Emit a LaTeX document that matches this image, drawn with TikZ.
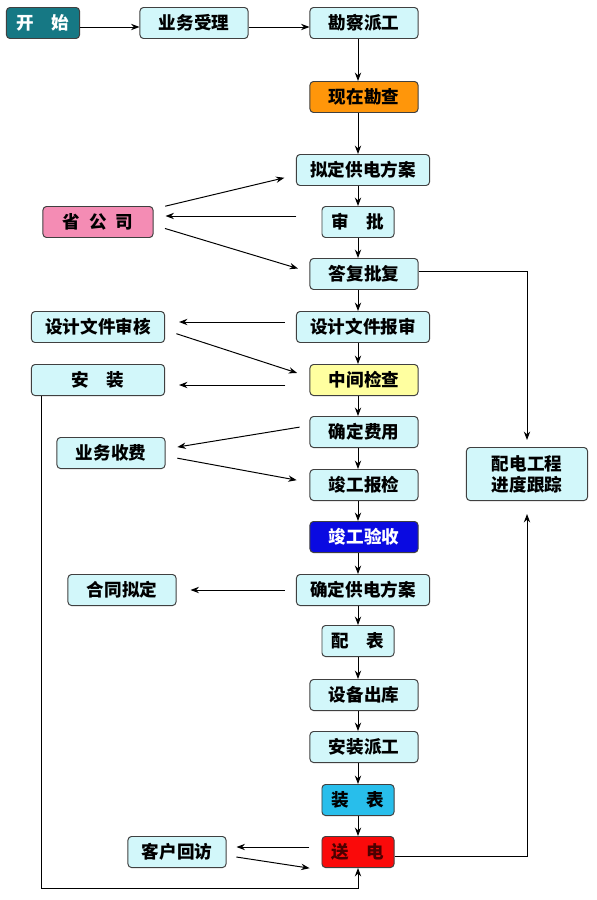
\documentclass[tikz,border=0pt]{standalone}
\usepackage{fontspec}
\newfontfamily\cjk{Noto Sans CJK SC}
\usetikzlibrary{arrows.meta,calc}
\definecolor{cyanbg}{RGB}{210,247,250}
\definecolor{tealbg}{RGB}{22,120,132}
\definecolor{orangebg}{RGB}{255,150,10}
\definecolor{pinkbg}{RGB}{244,140,180}
\definecolor{yellowbg}{RGB}{255,255,160}
\definecolor{bluebg}{RGB}{10,10,225}
\definecolor{skybg}{RGB}{40,190,235}
\definecolor{redbg}{RGB}{250,10,10}

\begin{document}
\begin{tikzpicture}[x=0.025cm,y=-0.025cm,>={Stealth[length=6pt,width=4.5pt]},line width=0.7pt,
                box/.style={draw=black!75,rounded corners=2.5pt,fill=cyanbg,minimum height=0.775cm,inner sep=0pt,font=\cjk\bfseries\fontsize{12.5}{15}\selectfont},
                boxs/.style={box,minimum width=1.8cm},
                boxm/.style={box,minimum width=2.7cm},
                boxl/.style={box,minimum width=3.325cm}]
                \useasboundingbox (0,0) rectangle (597,900);
                \coordinate (spine) at (358,0);
                \node[boxm,fill=tealbg,text=white,minimum width=1.825cm] (ks) at (43,23){开\quad 始};
                \node[boxm] (ywsl) at (194,23){业务受理};
                \node[boxm] (kcpg) at (364,23){勘察派工};
                \node[boxm,fill=orangebg] (xzkc) at (364,97){现在勘查};
                \node[boxl] (ndfa) at (363,170){拟定供电方案};
                \node[boxs] (sp) at (358,222){审\quad 批};
                \node[boxm,fill=pinkbg,minimum width=2.75cm] (sgs) at (98,222){省\enspace 公\enspace 司};
                \node[boxm] (dfpf) at (364,274){答复批复};
                \node[boxl] (sjbs) at (363,327){设计文件报审};
                \node[boxl] (sjsh) at (98,327){设计文件审核};
                \node[boxm,fill=yellowbg] (zjjc) at (364,380){中间检查};
                \node[boxl] (az) at (98,380){安\quad 装};
                \node[boxm] (qdfy) at (364,432){确定费用};
                \node[boxm] (ywsf) at (111,453){业务收费};
                \node[boxm] (jgbj) at (364,485){竣工报检};
                \node[boxm,fill=bluebg,text=white] (jgys) at (364,537){竣工验收};
                \node[boxl] (qdfa) at (363,590){确定供电方案};
                \node[boxm] (htnd) at (122,590){合同拟定};
                \node[box,minimum width=3.025cm,minimum height=1.325cm,align=center] (pdgc) at (527,474){配电工程\\进度跟踪};
                \node[boxs] (pb) at (358,641){配\quad 表};
                \node[boxm] (sbck) at (364,695){设备出库};
                \node[boxm] (azpg) at (364,747){安装派工};
                \node[boxs,fill=skybg] (zb) at (358,800){装\quad 表};
                \node[boxs,fill=redbg,text=black!70!red] (sd) at (358,852){送\quad 电};
                \node[box,minimum width=2.45cm] (khhf) at (177,852){客户回访};

                \draw[->] ($(ks.east)+(0,4)$) -- ($(ywsl.west)+(0,4)$);
                \draw[->] ($(ywsl.east)+(0,4)$) -- ($(kcpg.west)+(0,4)$);
                \foreach \a/\b in {kcpg/xzkc,xzkc/ndfa,ndfa/sp,sp/dfpf,dfpf/sjbs,sjbs/zjjc,zjjc/qdfy,qdfy/jgbj,jgbj/jgys,jgys/qdfa,qdfa/pb,pb/sbck,sbck/azpg,azpg/zb,zb/sd}
                    \draw[->] (\a.south -| spine) -- (\b.north -| spine);

                \draw[->,shorten <=0.3cm,shorten >=0.3cm] ($(sgs.north east)+(0,3)$) -- ($(ndfa.west)+(0,5)$);
                \draw[->,shorten <=0.625cm,shorten >=0.3cm] ($(sp.west)+(0,-6)$) -- ($(sgs.east)+(0,-6)$);
                \draw[->,shorten <=0.3cm,shorten >=0.3cm] ($(sgs.east)+(0,3)$) -- ($(dfpf.west)+(0,-2)$);
                \draw[->,shorten <=0.275cm,shorten >=0.35cm] ($(sjbs.west)+(0,-5)$) -- ($(sjsh.east)+(0,-5)$);
                \draw[->,shorten <=0.3cm,shorten >=0.325cm] ($(sjsh.east)+(0,3)$) -- ($(zjjc.west)+(0,-3)$);
                \draw[->,shorten <=0.6cm,shorten >=0.35cm] ($(zjjc.west)+(0,5)$) -- ($(az.east)+(0,5)$);
                \draw[->,shorten <=0.25cm,shorten >=0.3cm] ($(qdfy.west)+(0,-6.5)$) -- ($(ywsf.east)+(0,-4)$);
                \draw[->,shorten <=0.3cm,shorten >=0.325cm] ($(ywsf.east)+(0,3)$) -- ($(jgbj.west)+(0,-2.5)$);
                \draw[->,shorten <=0.275cm,shorten >=0.35cm] (qdfa.west) -- (htnd.east);
                \draw[->,shorten <=0.3cm,shorten >=0.25cm] ($(sd.west)+(0,-5)$) -- ($(khhf.east)+(0,-5)$);
                \draw[->,shorten <=0.25cm,shorten >=0.3cm] ($(khhf.east)+(0,3.5)$) -- ($(sd.west)+(0,18)$);

                \draw[->,shorten >=0.175cm] ($(dfpf.east)+(0,-3)$) -| (pdgc.north);
                \draw[->,shorten >=0.325cm] ($(sd.east)+(0,4)$) -| (pdgc.south);
                \draw[->] ($(az.south west)+(11,0)$) -- ++(0,492) -| (sd.south);
            \end{tikzpicture}
\end{document}
